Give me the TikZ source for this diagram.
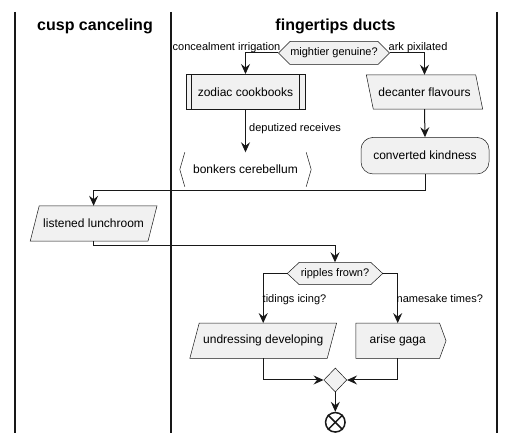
\documentclass[tikz,border=0pt]{standalone}
\usepackage{fontspec}
\setmainfont{Liberation Sans}
\usetikzlibrary{arrows.meta,shapes.geometric,backgrounds}
\definecolor{shfill}{HTML}{F1F1F1}
\definecolor{ink}{HTML}{181818}
\begin{document}
\begin{tikzpicture}[x=1pt,y=-1pt,
  lane/.style={draw=ink,line width=1.5pt},
  header/.style={font=\bfseries\fontsize{16}{19}\selectfont,anchor=base,inner sep=0pt},
  boxtxt/.style={font=\fontsize{12}{14}\selectfont,inner sep=0pt},
  smalltxt/.style={font=\fontsize{11}{13}\selectfont,inner sep=0pt},
  shp/.style={fill=shfill,draw=ink,line width=0.5pt},
  conn/.style={draw=ink,line width=1pt},
  arr/.style={conn,-{Stealth[length=10pt,width=9pt,inset=3.5pt]}},
]
\useasboundingbox (0,0) rectangle (515,443);

% swimlanes
\draw[lane] (15,12) -- (15,433);
\draw[lane] (171,12) -- (171,433);
\draw[lane] (497,12) -- (497,433);
\node[header] (h1) at (95,30.5) {cusp canceling};
\node[header] (h2) at (335.5,30.5) {fingertips ducts};

% nodes
\node[smalltxt,minimum width=81pt,minimum height=22.6pt] (m) at (334,53) {mightier genuine?};
\node[boxtxt,shp,minimum width=118.7pt,minimum height=35pt] (z) at (245.5,91.8) {zodiac cookbooks};
\node[boxtxt,minimum width=109pt,minimum height=34pt] (d) at (424.5,92) {decanter flavours};
\node[boxtxt,minimum width=121pt,minimum height=34pt] (b) at (245.5,169.5) {bonkers cerebellum};
\node[boxtxt,shp,rounded corners=12pt,minimum width=128pt,minimum height=36.5pt] (c) at (425,155.7) {converted kindness};
\node[boxtxt,minimum width=117.4pt,minimum height=35pt] (l) at (93.6,223.5) {listened lunchroom};
\node[smalltxt,minimum width=71pt,minimum height=22pt] (r) at (335,273.5) {ripples frown?};
\node[boxtxt,minimum width=137pt,minimum height=35pt] (u) at (263.2,340.8) {undressing developing};
\node[boxtxt,minimum width=83.3pt,minimum height=35pt] (a) at (397.7,340.8) {arise gaga};
\node[shp,diamond,inner sep=0pt,minimum width=23pt,minimum height=24pt] (g) at (335.3,380) {};
\node[circle,draw=ink,line width=1.5pt,fill=white,minimum size=19.5pt,inner sep=0pt] (e) at (335.3,422.3) {};
\draw[ink,line width=1.5pt] (e.north west) -- (e.south east) (e.north east) -- (e.south west);

% tips of hexagons
\coordinate (mW) at ([xshift=-11.6pt]m.west);
\coordinate (mE) at ([xshift=11.6pt]m.east);
\coordinate (rW) at ([xshift=-12pt]r.west);
\coordinate (rE) at ([xshift=12pt]r.east);

% shapes drawn behind the texts
\begin{scope}[on background layer]
\fill[white] (0,0) rectangle (515,443);
\path[shp] (mW) -- (m.north west) -- (m.north east) -- (mE) -- (m.south east) -- (m.south west) -- cycle;
\path[shp] (rW) -- (r.north west) -- (r.north east) -- (rE) -- (r.south east) -- (r.south west) -- cycle;
\path[shp] ([xshift=-3.5pt]d.north west) -- ([xshift=-3.5pt]d.north east) -- ([xshift=3.5pt]d.south east) -- ([xshift=3.5pt]d.south west) -- cycle;
\path[shp] ([xshift=4.5pt]l.north west) -- ([xshift=4.5pt]l.north east) -- ([xshift=-4.5pt]l.south east) -- ([xshift=-4.5pt]l.south west) -- cycle;
\path[shp] ([xshift=4.7pt]u.north west) -- ([xshift=4.7pt]u.north east) -- ([xshift=-4.7pt]u.south east) -- ([xshift=-4.7pt]u.south west) -- cycle;
\path[shp] (a.north west) -- (a.north east) -- ([xshift=6.5pt]a.east) -- (a.south east) -- (a.south west) -- cycle;
\end{scope}
\draw[ink,line width=0.5pt] ([xshift=5.7pt]z.north west) -- ([xshift=5.7pt]z.south west)
  ([xshift=-5.7pt]z.north east) -- ([xshift=-5.7pt]z.south east);
\draw[ink,line width=0.5pt] (b.north west) -- ([xshift=-5pt]b.west) -- (b.south west)
  (b.north east) -- ([xshift=5pt]b.east) -- (b.south east);

% junctions
\coordinate (j1) at (93.6,191);
\coordinate (j2) at (93.6,246);

% connectors
\draw[arr] (mW) -| (z.north);
\draw[arr] (mE) -| (d.north);
\draw[arr] (z.south) -- (b.north);
\draw[arr] (d.south) -- (c.north);
\draw[arr] (c.south) |- (j1) -- (l.north);
\draw[arr] (l.south) -- (j2) -| (r.north);
\draw[arr] (rW) -| (u.north);
\draw[arr] (rE) -| (a.north);
\draw[arr] (u.south) |- (g.west);
\draw[arr] (a.south) |- (g.east);
\draw[arr] (g.south) -- (e.north);

% labels
\node[smalltxt,anchor=base east] (lm1) at (280.5,50.5) {concealment irrigation};
\node[smalltxt,anchor=base west] (lm2) at (388.5,50.5) {ark pixilated};
\node[smalltxt,anchor=base west] (lz) at (249,131.5) {deputized receives};
\node[smalltxt,anchor=base west] (lr1) at (262.5,303) {tidings icing?};
\node[smalltxt,anchor=base west] (lr2) at (396.5,303) {namesake times?};
\end{tikzpicture}
\end{document}
